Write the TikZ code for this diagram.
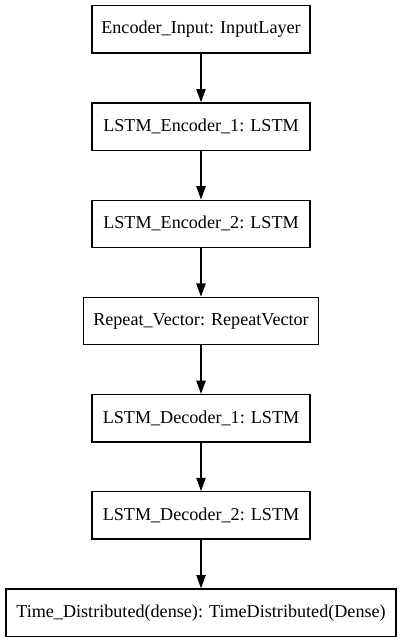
\documentclass[tikz,border=0pt]{standalone}
\usepackage{fontspec}
\setmainfont{Liberation Serif}
\usetikzlibrary{arrows.meta}
\begin{document}
\begin{tikzpicture}[x=1pt,y=1pt,
  layer/.style={draw=black, line width=1pt, fill=white, minimum height=35.5pt, inner sep=0pt, font=\fontsize{13.6pt}{16pt}\selectfont},
  conn/.style={draw=black, line width=1pt, -{Triangle[length=10pt,width=7pt]}}]
\useasboundingbox (0,0) rectangle (300.75,-483);
\node[layer, minimum width=163.5pt] (n0) at (150.75,-22.1) {Encoder\_Input: InputLayer};
\node[layer, minimum width=163.5pt] (n1) at (150.75,-95.0) {LSTM\_Encoder\_1: LSTM};
\node[layer, minimum width=163.5pt] (n2) at (150.75,-167.9) {LSTM\_Encoder\_2: LSTM};
\node[layer, minimum width=176.25pt] (n3) at (150.75,-240.8) {Repeat\_Vector: RepeatVector};
\node[layer, minimum width=163.5pt] (n4) at (150.75,-313.7) {LSTM\_Decoder\_1: LSTM};
\node[layer, minimum width=163.5pt] (n5) at (150.75,-386.6) {LSTM\_Decoder\_2: LSTM};
\node[layer, minimum width=292.5pt] (n6) at (150.75,-459.5) {Time\_Distributed(dense): TimeDistributed(Dense)};
\draw[conn] (n0) -- (n1);
\draw[conn] (n1) -- (n2);
\draw[conn] (n2) -- (n3);
\draw[conn] (n3) -- (n4);
\draw[conn] (n4) -- (n5);
\draw[conn] (n5) -- (n6);
\end{tikzpicture}
\end{document}
